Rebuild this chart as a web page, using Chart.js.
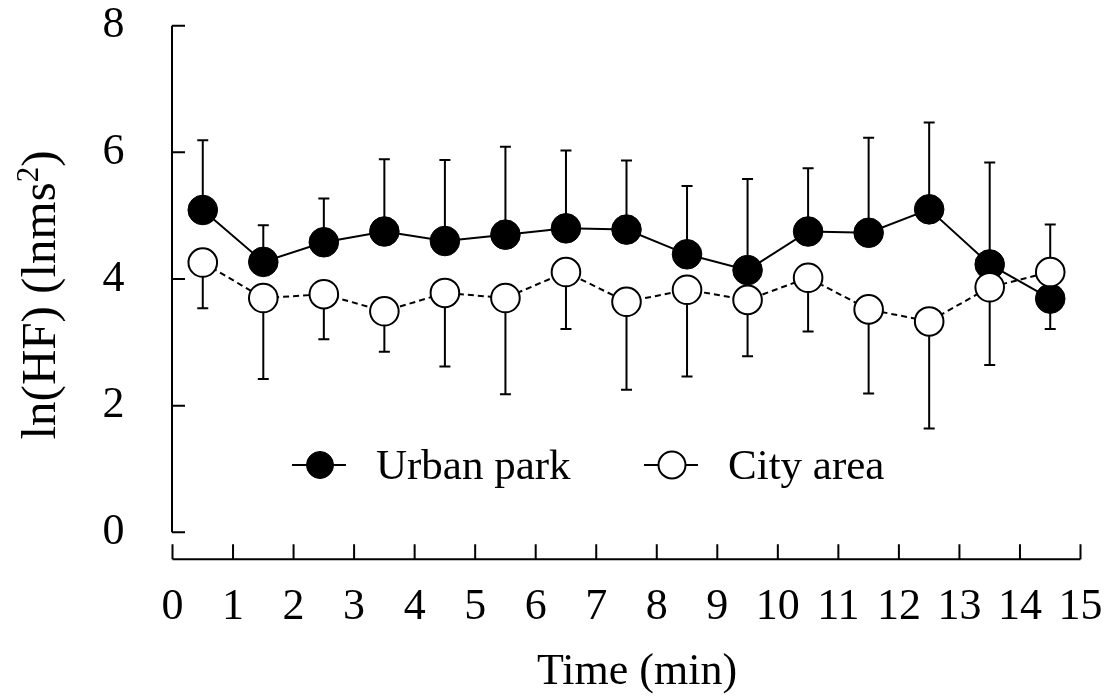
<!DOCTYPE html>
<html>
<head>
<meta charset="utf-8">
<script src="https://cdn.jsdelivr.net/npm/chart.js@4.4.1/dist/chart.umd.min.js"></script>
<style>
  html, body { margin: 0; padding: 0; background: #fff; }
  #wrap { width: 1104px; height: 699px; }
</style>
</head>
<body>
<div id="wrap"><canvas id="hfChart" width="1104" height="699"></canvas></div>
<script>
// Time points (min) and tick labels
const minutes = [0.5, 1.5, 2.5, 3.5, 4.5, 5.5, 6.5, 7.5, 8.5, 9.5, 10.5, 11.5, 12.5, 13.5, 14.5];
const xTicks = [0, 1, 2, 3, 4, 5, 6, 7, 8, 9, 10, 11, 12, 13, 14, 15];
const yTicks = [0, 2, 4, 6, 8];

// Urban park: mean and SD, bar direction (1 = up, -1 = down)
const parkMean = [5.09, 4.27, 4.58, 4.75, 4.60, 4.70, 4.80, 4.78, 4.39, 4.14, 4.75, 4.73, 5.10, 4.23, 3.69];
const parkSD   = [1.10, 0.58, 0.69, 1.14, 1.28, 1.39, 1.23, 1.09, 1.08, 1.44, 1.00, 1.50, 1.37, 1.61, 0.48];
const parkDir  = [1, 1, 1, 1, 1, 1, 1, 1, 1, 1, 1, 1, 1, 1, -1];

// City area
const cityMean = [4.26, 3.70, 3.76, 3.49, 3.78, 3.70, 4.11, 3.64, 3.83, 3.67, 4.02, 3.52, 3.33, 3.87, 4.11];
const citySD   = [0.72, 1.28, 0.71, 0.64, 1.16, 1.52, 0.90, 1.39, 1.37, 0.89, 0.85, 1.33, 1.69, 1.23, 0.75];
const cityDir  = [-1, -1, -1, -1, -1, -1, -1, -1, -1, -1, -1, -1, -1, -1, 1];

const FONT = "'Liberation Serif', 'Times New Roman', serif";

const errorBars = {
  id: 'errorBars',
  beforeDatasetsDraw(chart) {
    const { ctx, scales: { x, y } } = chart;
    const series = [[parkMean, parkSD, parkDir], [cityMean, citySD, cityDir]];
    ctx.save();
    ctx.strokeStyle = '#000';
    ctx.lineWidth = 2;
    series.forEach(([mean, sd, dir]) => {
      minutes.forEach((m, i) => {
        const px = x.getPixelForValue(m);
        const y0 = y.getPixelForValue(mean[i]);
        const y1 = y.getPixelForValue(mean[i] + dir[i] * sd[i]);
        ctx.beginPath();
        ctx.moveTo(px, y0);
        ctx.lineTo(px, y1);
        ctx.moveTo(px - 5.5, y1);
        ctx.lineTo(px + 5.5, y1);
        ctx.stroke();
      });
    });
    ctx.restore();
  }
};

const axesAndLegend = {
  id: 'axesAndLegend',
  afterDraw(chart) {
    const { ctx, scales: { x, y } } = chart;
    ctx.save();
    ctx.strokeStyle = '#000';
    ctx.fillStyle = '#000';
    ctx.lineWidth = 2;

    // y axis with inward ticks
    const ax = x.getPixelForValue(0) - 0.5;
    ctx.beginPath();
    ctx.moveTo(ax, y.getPixelForValue(8));
    ctx.lineTo(ax, y.getPixelForValue(0));
    yTicks.forEach(v => {
      const py = y.getPixelForValue(v);
      ctx.moveTo(ax, py);
      ctx.lineTo(ax + 13, py);
    });
    ctx.stroke();

    // x axis, offset below the plot
    const ay = y.getPixelForValue(0) + 27;
    ctx.beginPath();
    ctx.moveTo(x.getPixelForValue(0), ay);
    ctx.lineTo(x.getPixelForValue(15), ay);
    xTicks.forEach(v => {
      const px = x.getPixelForValue(v);
      ctx.moveTo(px, ay);
      ctx.lineTo(px, ay - 15);
    });
    ctx.stroke();

    // x title
    ctx.font = '44px ' + FONT;
    ctx.textAlign = 'center';
    ctx.textBaseline = 'alphabetic';
    ctx.fillText('Time (min)', 637, 684);

    // y title with superscript 2
    ctx.save();
    ctx.translate(55, 295);
    ctx.rotate(-Math.PI / 2);
    ctx.textAlign = 'left';
    const main = '49px ' + FONT, sup = '31px ' + FONT;
    ctx.font = main;
    const w1 = ctx.measureText('ln(HF) (lnms').width;
    const w3 = ctx.measureText(')').width;
    ctx.font = sup;
    const w2 = ctx.measureText('2').width;
    let tx = -(w1 + w2 + w3) / 2;
    ctx.font = main;
    ctx.fillText('ln(HF) (lnms', tx, 0);
    ctx.font = sup;
    ctx.fillText('2', tx + w1, -17);
    ctx.font = main;
    ctx.fillText(')', tx + w1 + w2, 0);
    ctx.restore();

    // legend
    const items = [
      { text: 'Urban park', x0: 292, fill: '#000', border: 1 },
      { text: 'City area', x0: 644, fill: '#fff', border: 2 }
    ];
    const ly = 465;
    items.forEach(it => {
      ctx.beginPath();
      ctx.moveTo(it.x0, ly);
      ctx.lineTo(it.x0 + 54, ly);
      ctx.stroke();
      ctx.beginPath();
      ctx.arc(it.x0 + 28, ly, 13.5, 0, Math.PI * 2);
      ctx.fillStyle = it.fill;
      ctx.fill();
      ctx.lineWidth = it.border;
      ctx.stroke();
      ctx.lineWidth = 2;
      ctx.fillStyle = '#000';
      ctx.font = '43px ' + FONT;
      ctx.textAlign = 'left';
      ctx.fillText(it.text, it.x0 + 84, 479);
    });
    ctx.restore();
  }
};

const ctx = document.getElementById('hfChart').getContext('2d');
new Chart(ctx, {
  type: 'line',
  data: {
    datasets: [
      {
        label: 'Urban park',
        data: minutes.map((m, i) => ({ x: m, y: parkMean[i] })),
        borderColor: '#000',
        borderWidth: 2,
        pointRadius: 14.8,
        pointBackgroundColor: '#000',
        pointBorderColor: '#000',
        pointBorderWidth: 1,
        tension: 0,
        order: 1
      },
      {
        label: 'City area',
        data: minutes.map((m, i) => ({ x: m, y: cityMean[i] })),
        borderColor: '#000',
        borderWidth: 2,
        borderDash: [6, 4],
        pointRadius: 14.3,
        pointBackgroundColor: '#fff',
        pointBorderColor: '#000',
        pointBorderWidth: 2,
        tension: 0,
        order: 0
      }
    ]
  },
  options: {
    responsive: false,
    animation: false,
    layout: { padding: { top: 25.7, right: 23.5, bottom: 0, left: 0 } },
    plugins: { legend: { display: false }, tooltip: { enabled: false } },
    scales: {
      x: {
        type: 'linear',
        min: 0,
        max: 15,
        afterBuildTicks: s => { s.ticks = xTicks.map(v => ({ value: v })); },
        ticks: { padding: 41, color: '#000', font: { family: FONT, size: 44 } },
        grid: { display: false },
        border: { display: false },
        afterFit: s => { s.height = 166.7; s.paddingLeft = 0; s.paddingRight = 0; }
      },
      y: {
        min: 0,
        max: 8,
        afterBuildTicks: s => { s.ticks = yTicks.map(v => ({ value: v })); },
        ticks: { padding: 40, color: '#000', font: { family: FONT, size: 44 } },
        grid: { display: false },
        border: { display: false },
        afterFit: s => { s.width = 172.5; s.paddingTop = 0; s.paddingBottom = 0; }
      }
    }
  },
  plugins: [errorBars, axesAndLegend]
});
</script>
</body>
</html>
